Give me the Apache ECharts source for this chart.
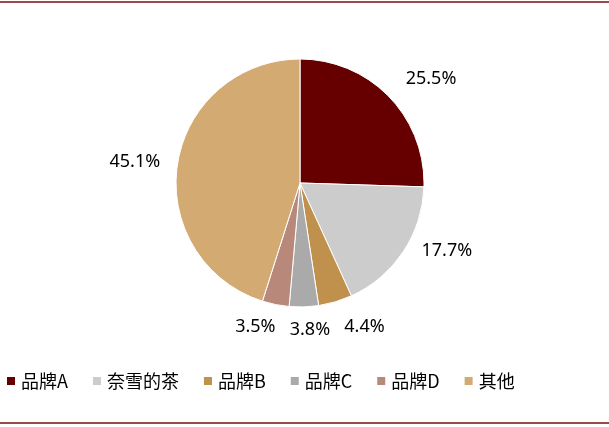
<!DOCTYPE html>
<html>
<head>
<meta charset="utf-8">
<script src="https://cdn.jsdelivr.net/npm/echarts@6/dist/echarts.min.js"></script>
<style>
html,body{margin:0;padding:0;background:#fff;}
#main{width:609px;height:427px;position:relative;}
.rule{position:absolute;left:0;width:609px;height:2px;background:#9a4a4a;}
</style>
</head>
<body>
<div id="main">
<div id="chart" style="width:609px;height:427px;"></div>
<div class="rule" style="top:1px;"></div>
<div class="rule" style="top:422px;"></div>
</div>
<script>
var brands=['品牌A','奈雪的茶','品牌B','品牌C','品牌D','其他'];
var shares=[25.5,17.7,4.4,3.8,3.5,45.1];
var colors=['#660000','#cccccc','#c0904d','#aaaaaa','#b8897a','#d4aa73'];
// small label nudges (px) like excel's best-fit placement
var labelNudgeX=[14,12,15,0,-9,-6];
var labelNudgeY=[4,-19,-6,-9,-9,3];

var myChart=echarts.init(document.getElementById('chart'));

var pieData=[];
for(let i=0;i<brands.length;i++){
	pieData.push({name:brands[i],value:shares[i],itemStyle:{color:colors[i]}});
}

var option={
	animation:false,
	legend:{
		left:0,
		top:367,
		itemWidth:10,
		itemHeight:10,
		itemGap:23,
		icon:'rect',
		textStyle:{fontSize:18,color:'#000',fontFamily:'Noto Sans CJK SC'},
		data:brands
	},
	series:[{
		type:'pie',
		center:[300,183],
		radius:[0,124],
		startAngle:90,
		clockwise:true,
		avoidLabelOverlap:false,
		itemStyle:{borderColor:'#fff',borderWidth:1},
		label:{
			show:true,
			position:'outside',
			alignTo:'none',
			fontSize:18,
			color:'#000',
			fontFamily:'Noto Sans',
			formatter:function(p){return p.value.toFixed(1)+'%';}
		},
		labelLine:{show:false,length:32,length2:0},
		labelLayout:function(p){
			// put text centre on the radial point instead of its edge
			let ax=p.align==='right'?p.labelRect.x+p.labelRect.width:p.labelRect.x;
			return {x:ax,align:'center',dx:labelNudgeX[p.dataIndex],dy:labelNudgeY[p.dataIndex]};
		},
		data:pieData
	}]
};
myChart.setOption(option);
</script>
</body>
</html>
